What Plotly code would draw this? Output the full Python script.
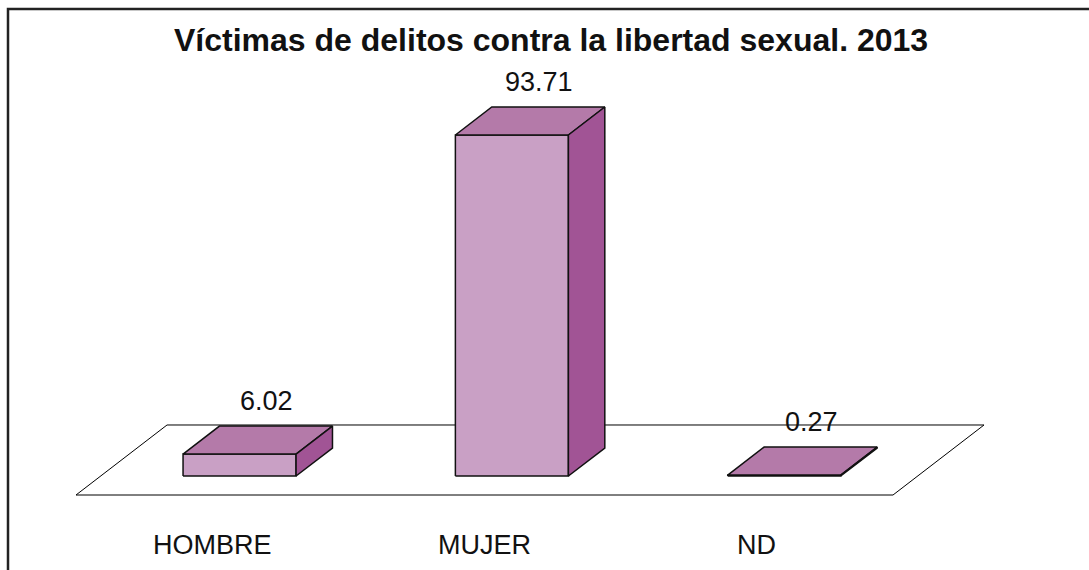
import plotly.graph_objects as go

# ---- data ----
categories = ["HOMBRE", "MUJER", "ND"]
values = [6.02, 93.71, 0.27]
value_labels = ["6.02", "93.71", "0.27"]
title_text = "Víctimas de delitos contra la libertad sexual. 2013"

# ---- styling / oblique projection parameters ----
FRONT = "#C9A0C5"
TOP = "#B47AA9"
SIDE = "#A15495"
DX = 0.3342      # category units shifted per unit of depth
DY = 19.24       # value units shifted per unit of depth
BAR_HALF = 0.2075
BAR_SHIFT = 0.01
D0, D1 = 0.271, 0.671
FONT = "Liberation Sans, Arial, sans-serif"


def proj(x, v, d):
    return x + d * DX, v + d * DY


fig = go.Figure()

# floor parallelogram
n = len(categories)
xl, xr = -0.5, n - 0.5
floor = [(xl, 0), (xr, 0), (xr, 1), (xl, 1), (xl, 0)]
pts = [proj(x, 0, d) for x, d in floor]
fig.add_trace(go.Scatter(x=[p[0] for p in pts], y=[p[1] for p in pts], mode="lines",
                         line=dict(color="black", width=1), hoverinfo="skip", showlegend=False))

for i, v in enumerate(values):
    c = i + BAR_SHIFT
    l, r = c - BAR_HALF, c + BAR_HALF
    front = [(l, 0, D0), (r, 0, D0), (r, v, D0), (l, v, D0), (l, 0, D0)]
    top = [(l, v, D0), (r, v, D0), (r, v, D1), (l, v, D1), (l, v, D0)]
    side = [(r, 0, D0), (r, 0, D1), (r, v, D1), (r, v, D0), (r, 0, D0)]
    for face, col in [(front, FRONT), (top, TOP), (side, SIDE)]:
        p = [proj(*q) for q in face]
        fig.add_trace(go.Scatter(x=[a for a, b in p], y=[b for a, b in p], mode="lines",
                                 fill="toself", fillcolor=col,
                                 line=dict(color="#111111", width=1.5),
                                 hoverinfo="skip", showlegend=False))
    lx, ly = proj(c, v, 0.571)
    fig.add_annotation(x=lx, y=ly, text=value_labels[i], showarrow=False, yshift=32,
                       xanchor="center", yanchor="middle",
                       font=dict(family=FONT, size=27, color="#111111"))
    fig.add_annotation(x=i, y=0, text=categories[i], showarrow=False, yshift=-50,
                       xanchor="center", yanchor="middle",
                       font=dict(family=FONT, size=27, color="#111111"))

fig.add_annotation(xref="paper", yref="paper", x=0.506, y=1 - 40 / 570, text="<b>" + title_text + "</b>",
                   showarrow=False, xanchor="center", yanchor="middle",
                   font=dict(family=FONT, size=32, color="#111111"))

fig.add_shape(type="rect", xref="paper", yref="paper", x0=8 / 1089, y0=1 - 9 / 570, x1=1.05, y1=-0.05,
              line=dict(color="#222222", width=2.5))

fig.update_xaxes(range=[-0.7791, 3.2197], visible=False, fixedrange=True)
fig.update_yaxes(range=[-20.61, 136.03], visible=False, fixedrange=True)
fig.update_layout(width=1089, height=570, margin=dict(l=0, r=0, t=0, b=0),
                  paper_bgcolor="white", plot_bgcolor="white", showlegend=False)

fig.write_html("out.html", config={"displayModeBar": False},
               post_script="document.body.style.margin='0';document.body.style.overflow='hidden';")
